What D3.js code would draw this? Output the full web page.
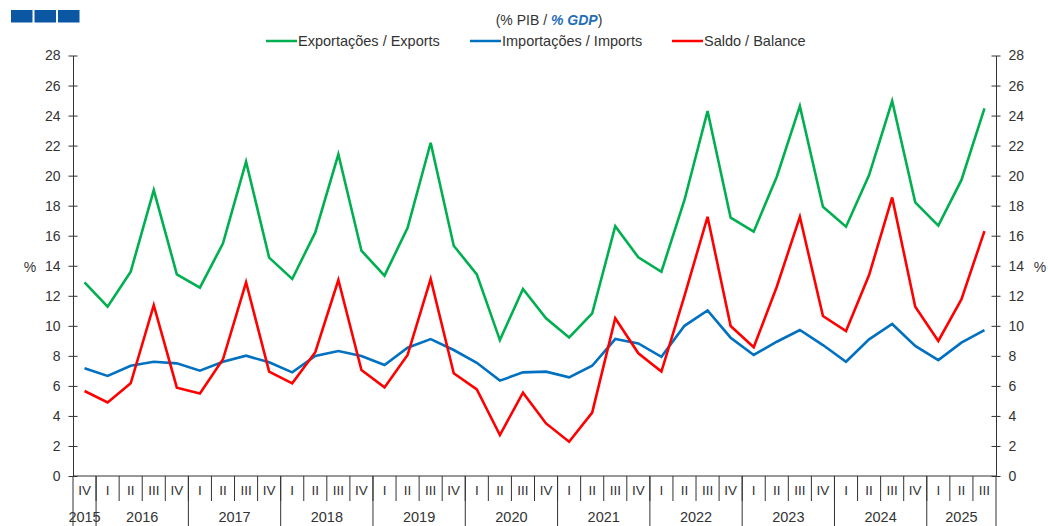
<!DOCTYPE html>
<html><head><meta charset="utf-8">
<script src="https://cdn.jsdelivr.net/npm/d3@7/dist/d3.min.js"></script>
<style>
body{margin:0;background:#fff;}
svg{display:block;font-family:"Liberation Sans",Arial,sans-serif;}
</style></head>
<body><svg id="c" width="1048" height="526"></svg>
<script>
const quarters = ["IV","I","II","III","IV","I","II","III","IV","I","II","III","IV","I","II","III","IV","I","II","III","IV","I","II","III","IV","I","II","III","IV","I","II","III","IV","I","II","III","IV","I","II","III"];
const years = ["2015","2016","2017","2018","2019","2020","2021","2022","2023","2024","2025"];
const yearCounts = [1,4,4,4,4,4,4,4,4,4,3];
const exportsS = [12.9,11.27,13.6,19.04,13.43,12.54,15.49,20.93,14.54,13.12,16.22,21.42,15.0,13.34,16.53,22.19,15.33,13.43,9.05,12.45,10.5,9.23,10.83,16.64,14.56,13.6,18.38,24.3,17.2,16.27,19.93,24.63,17.93,16.6,20.04,24.97,18.22,16.67,19.7,24.48];
const importsS = [7.17,6.66,7.34,7.61,7.5,7.01,7.61,8.01,7.57,6.9,7.99,8.32,7.99,7.39,8.54,9.12,8.39,7.54,6.35,6.9,6.95,6.57,7.34,9.12,8.83,7.94,10.0,11.03,9.21,8.06,8.94,9.72,8.72,7.61,9.1,10.12,8.66,7.72,8.88,9.72];
const balanceS = [5.66,4.9,6.17,11.38,5.88,5.5,7.77,12.9,6.95,6.17,8.24,13.05,7.06,5.9,8.06,13.12,6.84,5.77,2.73,5.55,3.5,2.28,4.22,10.5,8.17,6.95,12.0,17.26,9.99,8.57,12.6,17.26,10.65,9.65,13.38,18.55,11.27,8.99,11.76,16.31];
const yTicks = [0,2,4,6,8,10,12,14,16,18,20,22,24,26,28];
const seriesNames = ["Exportações / Exports","Importações / Imports","Saldo / Balance"];
const seriesColors = ["#00b050","#0070c0","#ff0000"];

const svg = d3.select("#c");
const L = 73, R = 996, T = 55.5, B = 476;
const idx = d3.range(quarters.length);
const x = d3.scaleBand().domain(idx).range([L, R]).padding(0);
const y = d3.scaleLinear().domain([0, 28]).range([B, T]);
const axisColor = "#333";
const txtColor = "#333";

// header boxes
[0,1,2].forEach(i => svg.append("rect").attr("x", 11 + i*23.5).attr("y", 10).attr("width", 21.5).attr("height", 12.5).attr("fill", "#0b57a4"));

// subtitle
const sub = svg.append("text").attr("x", 549).attr("y", 25).attr("text-anchor", "middle").attr("font-size", 14).attr("fill", txtColor);
sub.append("tspan").text("(% PIB / ");
sub.append("tspan").text("% GDP").attr("font-weight", "bold").attr("font-style", "italic").attr("fill", "#1f6fb8");
sub.append("tspan").text(")");

// legend
const legX = [266, 470, 672];
seriesNames.forEach((n, i) => {
  svg.append("line").attr("x1", legX[i]).attr("x2", legX[i] + 31).attr("y1", 41).attr("y2", 41).attr("stroke", seriesColors[i]).attr("stroke-width", 2.5);
  svg.append("text").attr("x", legX[i] + 32).attr("y", 46).attr("font-size", 14.5).attr("fill", txtColor).text(n);
});

// left axis
const yl = svg.append("g").attr("transform", `translate(${L},0)`)
  .call(d3.axisLeft(y).tickValues(yTicks).tickSize(4.5).tickSizeOuter(0).tickPadding(8));
yl.selectAll(".tick line").attr("x1", 4.5).attr("x2", -4.5);
// right axis
const yr = svg.append("g").attr("transform", `translate(${R},0)`)
  .call(d3.axisRight(y).tickValues(yTicks).tickSize(4.5).tickSizeOuter(0).tickPadding(8));
yr.selectAll(".tick line").attr("x1", -4.5).attr("x2", 4.5);
[yl, yr].forEach(g => {
  g.select(".domain").attr("stroke", axisColor);
  g.selectAll(".tick line").attr("stroke", axisColor);
  g.selectAll(".tick text").attr("font-size", 14).attr("fill", txtColor).attr("font-family", "Liberation Sans, Arial, sans-serif");
});
svg.append("line").attr("x1", L).attr("x2", L).attr("y1", B).attr("y2", 526).attr("stroke", axisColor);
svg.append("line").attr("x1", R).attr("x2", R).attr("y1", B).attr("y2", 526).attr("stroke", axisColor);
svg.append("text").attr("x", 30).attr("y", 272).attr("text-anchor", "middle").attr("font-size", 14).attr("fill", txtColor).text("%");
svg.append("text").attr("x", 1040).attr("y", 272).attr("text-anchor", "middle").attr("font-size", 14).attr("fill", txtColor).text("%");

// bottom axis
svg.append("line").attr("x1", L).attr("x2", R).attr("y1", B).attr("y2", B).attr("stroke", axisColor);
idx.forEach(i => {
  if (i > 0) svg.append("line").attr("x1", x(i)).attr("x2", x(i)).attr("y1", B).attr("y2", 501).attr("stroke", axisColor);
  svg.append("text").attr("x", x(i) + x.bandwidth()/2).attr("y", 495).attr("text-anchor", "middle").attr("font-size", 13.5).attr("fill", txtColor).text(quarters[i]);
});
let start = 0;
years.forEach((yr_, k) => {
  const end = start + yearCounts[k];
  const x0 = x(start), x1 = end < quarters.length ? x(end) : R;
  if (end < quarters.length) svg.append("line").attr("x1", x1).attr("x2", x1).attr("y1", B).attr("y2", 526).attr("stroke", axisColor);
  svg.append("text").attr("x", (x0 + x1)/2).attr("y", 522).attr("text-anchor", "middle").attr("font-size", 14.5).attr("fill", txtColor).text(yr_);
  start = end;
});

// lines
const line = d3.line().x((d, i) => x(i) + x.bandwidth()/2).y(d => y(d));
[exportsS, importsS, balanceS].forEach((s, i) => {
  svg.append("path").datum(s).attr("d", line).attr("fill", "none").attr("stroke", seriesColors[i]).attr("stroke-width", 2.6).attr("stroke-linejoin", "miter");
});
</script></body></html>
